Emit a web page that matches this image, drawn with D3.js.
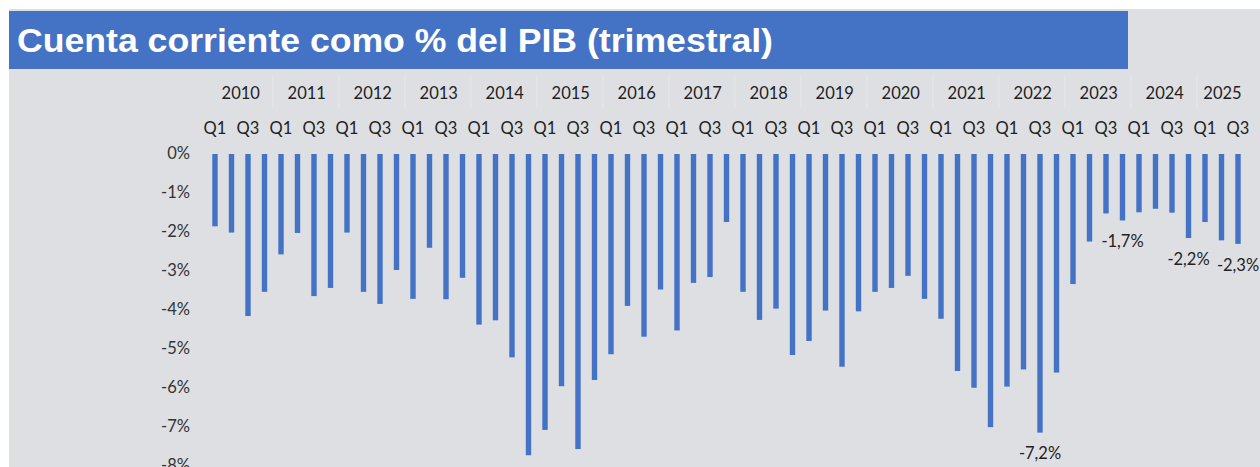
<!DOCTYPE html>
<html>
<head>
<meta charset="utf-8">
<script src="https://cdn.jsdelivr.net/npm/d3@7"></script>
<style>
  body { margin: 0; background: #fff; }
  svg { display: block; }
</style>
</head>
<body>
<svg width="1260" height="467"></svg>
<script>
// datos
const years = ["2010", "2011", "2012", "2013", "2014", "2015", "2016", "2017",
  "2018", "2019", "2020", "2021", "2022", "2023", "2024", "2025"];
const quarters = ["Q1", "Q2", "Q3", "Q4"];
const values = [
  -1.88, -2.04, -4.18, -3.56,
  -2.60, -2.05, -3.67, -3.46,
  -2.04, -3.56, -3.87, -3.00,
  -3.74, -2.43, -3.75, -3.20,
  -4.40, -4.29, -5.24, -7.75,
  -7.10, -5.98, -7.59, -5.82,
  -5.16, -3.92, -4.71, -3.50,
  -4.55, -3.33, -3.18, -1.77,
  -3.56, -4.28, -3.99, -5.18,
  -4.82, -4.04, -5.48, -4.06,
  -3.56, -3.46, -3.15, -3.74,
  -4.25, -5.59, -6.02, -7.03,
  -5.99, -5.55, -7.17, -5.63,
  -3.36, -2.27, -1.55, -1.73,
  -1.52, -1.43, -1.53, -2.18,
  -1.77, -2.24, -2.33
];
const yTicks = [0, -1, -2, -3, -4, -5, -6, -7, -8];
const labelled = ["2022 Q3", "2023 Q4", "2024 Q4", "2025 Q3"];
const title = "Cuenta corriente como % del PIB (trimestral)";

const data = values.map((v, i) => ({
  year: years[Math.floor(i / 4)],
  q: quarters[i % 4],
  key: years[Math.floor(i / 4)] + " " + quarters[i % 4],
  value: v
}));

const svg = d3.select("svg");
const width = +svg.attr("width");
const height = +svg.attr("height");

const blue = "#4472c4";
const font = "Lato, 'Open Sans', sans-serif";
const es = d3.formatLocale({ decimal: ",", thousands: ".", grouping: [3], currency: ["", "€"], minus: "-" });
const fmt = es.format(".1f");

// fondo
svg.append("rect")
  .attr("x", 9).attr("y", 9)
  .attr("width", width - 9).attr("height", height - 9)
  .attr("fill", "#dedfe3");

svg.append("rect")
  .attr("x", 9).attr("y", 11)
  .attr("width", 1119).attr("height", 58)
  .attr("fill", blue);

svg.append("text")
  .attr("x", 17).attr("y", 52)
  .attr("fill", "#fff")
  .attr("font-family", "'Liberation Sans', Arial, sans-serif")
  .attr("font-weight", "bold")
  .attr("font-size", 34)
  .attr("textLength", 756)
  .attr("lengthAdjust", "spacingAndGlyphs")
  .text(title);

// escalas
const x = d3.scalePoint()
  .domain(data.map(d => d.key))
  .range([215, 1238]);

const y = d3.scaleLinear()
  .domain([-8, 0])
  .range([465, 153]);

// eje y
svg.append("g")
  .selectAll("text")
  .data(yTicks)
  .join("text")
  .attr("x", 190)
  .attr("y", d => y(d))
  .attr("dy", "0.35em")
  .attr("text-anchor", "end")
  .attr("font-family", font)
  .attr("font-size", 16.5)
  .attr("fill", "#333")
  .text(d => d + "%");

// separadores de años
const step = x.step();
svg.append("g")
  .selectAll("line")
  .data(years.slice(1))
  .join("line")
  .attr("x1", d => x(d + " Q1") - step / 2)
  .attr("x2", d => x(d + " Q1") - step / 2)
  .attr("y1", 75).attr("y2", 108)
  .attr("stroke", "#e5e6e9")
  .attr("stroke-width", 1);

// etiquetas de años
svg.append("g")
  .selectAll("text")
  .data(years)
  .join("text")
  .attr("x", d => {
    const ks = data.filter(e => e.year === d).map(e => x(e.key));
    return (ks[0] + ks[ks.length - 1]) / 2 + 1;
  })
  .attr("y", 93)
  .attr("dy", "0.35em")
  .attr("text-anchor", "middle")
  .attr("font-family", font)
  .attr("font-size", 16.5)
  .attr("fill", "#222")
  .text(d => d);

// etiquetas de trimestres (solo Q1 y Q3)
svg.append("g")
  .selectAll("text")
  .data(data.filter(d => d.q === "Q1" || d.q === "Q3"))
  .join("text")
  .attr("x", d => x(d.key))
  .attr("y", 128)
  .attr("dy", "0.35em")
  .attr("text-anchor", "middle")
  .attr("font-family", font)
  .attr("font-size", 16.5)
  .attr("fill", "#222")
  .text(d => d.q);

// barras
const bw = 5.4;
svg.append("g")
  .selectAll("rect")
  .data(data)
  .join("rect")
  .attr("x", d => x(d.key) - bw / 2)
  .attr("y", y(0) + 1)
  .attr("width", bw)
  .attr("height", d => y(d.value) - y(0) - 1)
  .attr("fill", blue);

// etiquetas de datos
svg.append("g")
  .selectAll("text")
  .data(data.filter(d => labelled.includes(d.key)))
  .join("text")
  .attr("x", d => x(d.key))
  .attr("y", d => y(d.value) + 21)
  .attr("dy", "0.35em")
  .attr("text-anchor", "middle")
  .attr("font-family", font)
  .attr("font-size", 16.5)
  .attr("fill", "#222")
  .text(d => fmt(d.value) + "%");
</script>
</body>
</html>
